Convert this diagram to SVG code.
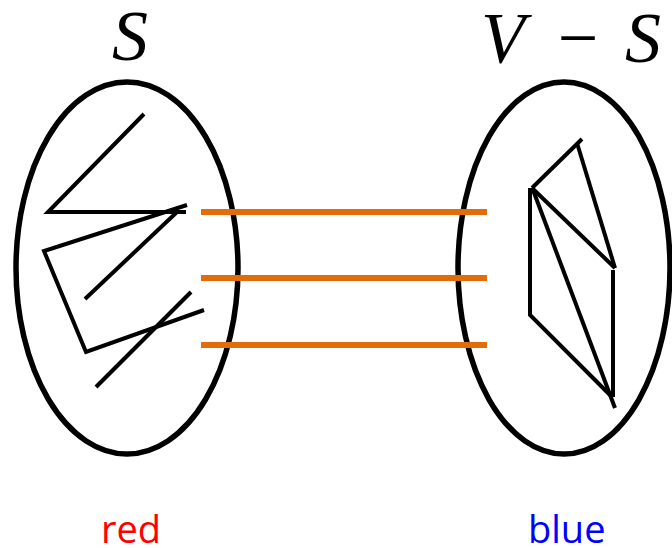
<svg xmlns="http://www.w3.org/2000/svg" width="672" height="548" viewBox="0 0 672 548">
<style>
.set{fill:none;stroke:#000;stroke-width:5.5}
.edge{fill:none;stroke:#000;stroke-width:4;stroke-linecap:butt;stroke-linejoin:miter}
.cross{stroke:#E26B0A;stroke-width:6}
.math{font-family:"Liberation Serif","Times New Roman",serif;font-style:italic;font-size:72px;fill:#000}
.lbl{font-family:"Open Sans","Liberation Sans",sans-serif;font-size:38px}
</style>
<rect width="672" height="548" fill="#fff"/>
<g id="setS">
<ellipse class="set" cx="127" cy="268" rx="111" ry="186"/>
<polyline class="edge" points="144,114 48,212 186,212"/>
<polyline class="edge" points="187,205 44,251 86,352 204,310"/>
<line class="edge" x1="177" y1="212" x2="85" y2="299"/>
<line class="edge" x1="191" y1="292" x2="96" y2="387"/>
<text class="math" x="112" y="60">S</text>
</g>
<g id="setVS">
<ellipse class="set" cx="564" cy="268" rx="106" ry="186"/>
<line class="edge" x1="582" y1="139" x2="532" y2="188"/>
<line class="edge" x1="577" y1="143" x2="615" y2="268"/>
<line class="edge" x1="532" y1="188" x2="615" y2="268"/>
<polyline class="edge" points="530,188 530,315 612,397"/>
<line class="edge" x1="533" y1="190" x2="615" y2="408"/>
<line class="edge" x1="613" y1="270" x2="613" y2="397"/>
<text class="math" y="62"><tspan x="481">V</tspan><tspan x="578" text-anchor="middle" font-style="normal">−</tspan><tspan x="625">S</tspan></text>
</g>
<g id="connectors">
<line class="cross" x1="201" y1="212" x2="487" y2="212"/>
<line class="cross" x1="201" y1="278" x2="487" y2="278"/>
<line class="cross" x1="201" y1="345" x2="487" y2="345"/>
</g>
<g id="labels">
<text class="lbl" x="101" y="543" fill="#FF0000">red</text>
<text class="lbl" x="528" y="543" fill="#0000FF">blue</text>
</g>
</svg>
